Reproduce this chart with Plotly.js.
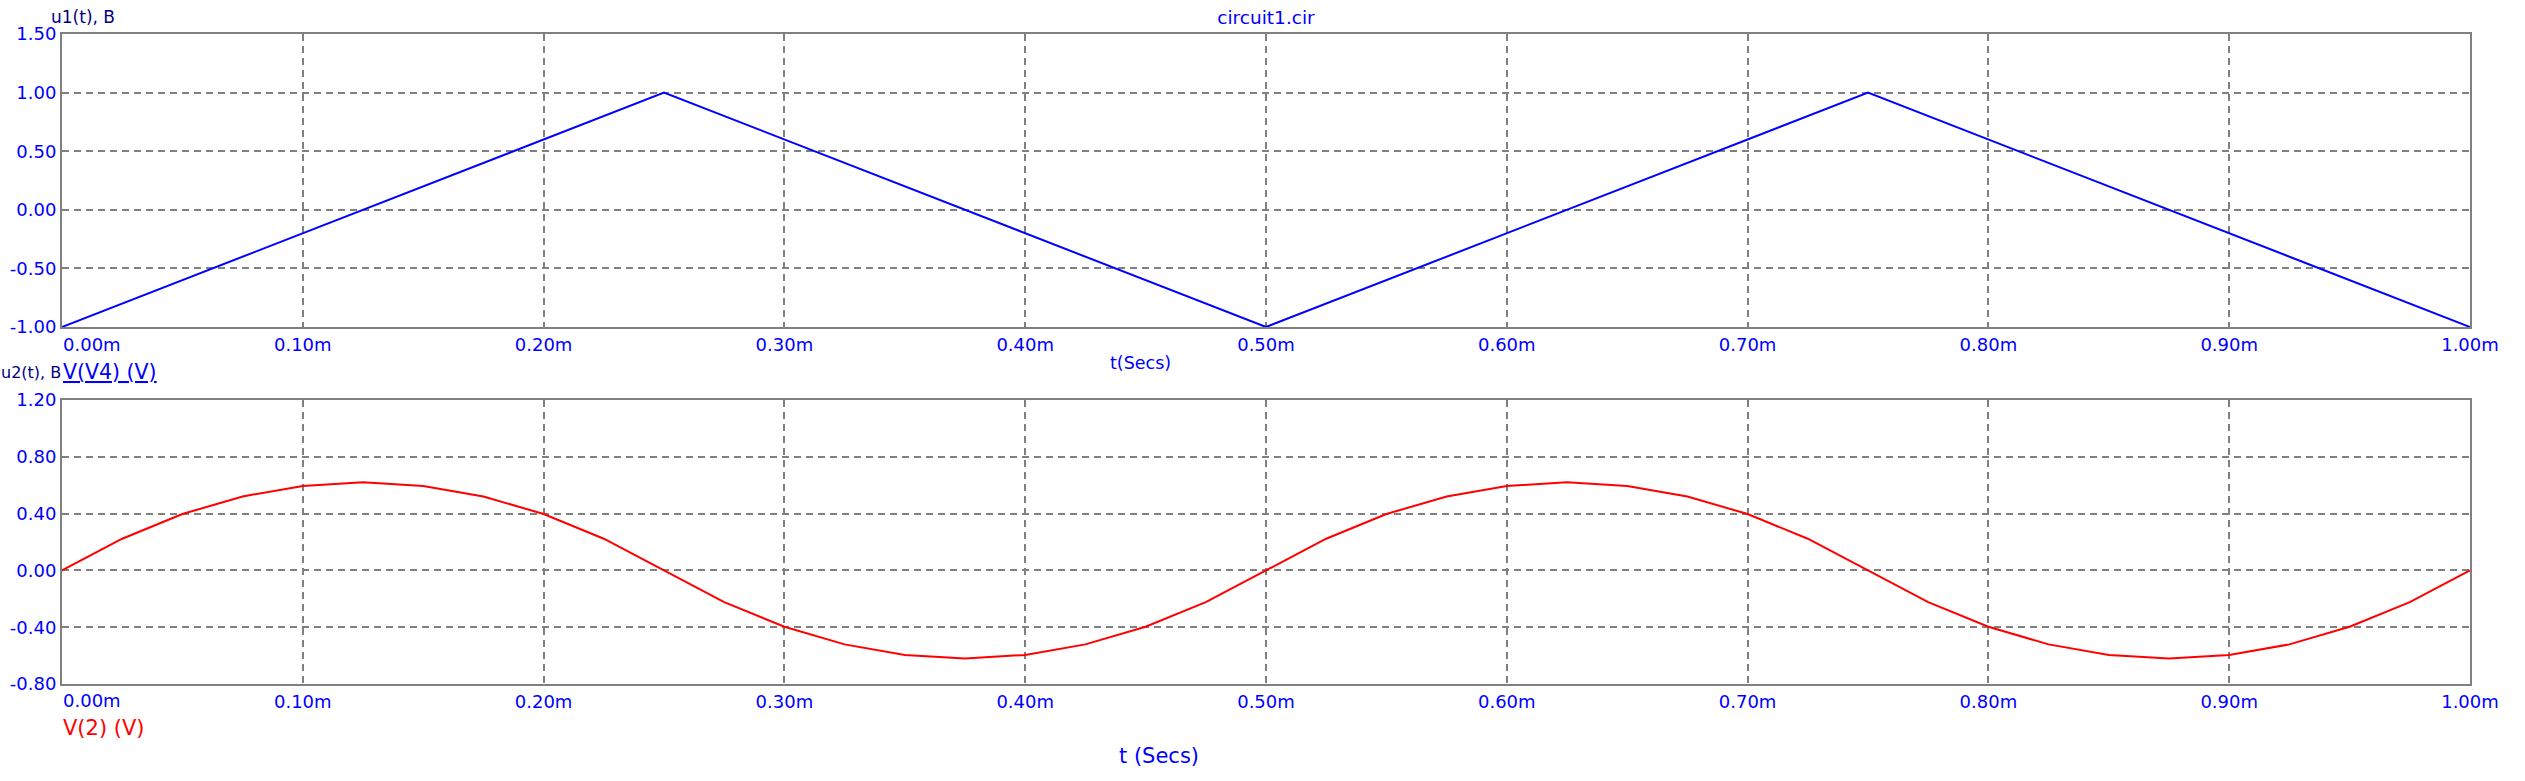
<!DOCTYPE html>
<html><head><meta charset="utf-8">
<script src="https://cdn.plot.ly/plotly-3.0.1.min.js"></script>
<style>html,body{margin:0;padding:0;background:#fff}</style>
</head><body><div id="chart" style="width:2525px;height:781px"></div>
<script>
// time in ms
const tTri = [0, 0.25, 0.5, 0.75, 1.0];
const u1 = [-1, 1, -1, 1, -1];
const tWave = [0,0.025,0.05,0.075,0.1,0.125,0.15,0.175,0.2,0.225,0.25,0.275,0.3,0.325,0.35,0.375,0.4,0.425,0.45,0.475,0.5,
  0.525,0.55,0.575,0.6,0.625,0.65,0.675,0.7,0.725,0.75,0.775,0.8,0.825,0.85,0.875,0.9,0.925,0.95,0.975,1.0];
const u2 = [0,0.223,0.397,0.521,0.595,0.62,0.595,0.521,0.397,0.223,0,-0.223,-0.397,-0.521,-0.595,-0.62,-0.595,-0.521,-0.397,-0.223,0,
  0.223,0.397,0.521,0.595,0.62,0.595,0.521,0.397,0.223,0,-0.223,-0.397,-0.521,-0.595,-0.62,-0.595,-0.521,-0.397,-0.223,0];
const xTickVals = [0,0.1,0.2,0.3,0.4,0.5,0.6,0.7,0.8,0.9,1.0];
const xTickText = ['0.00m','0.10m','0.20m','0.30m','0.40m','0.50m','0.60m','0.70m','0.80m','0.90m','1.00m'];
const y1TickVals = [-1,-0.5,0,0.5,1,1.5];
const y1TickText = ['-1.00','-0.50','0.00','0.50','1.00','1.50'];
const y2TickVals = [-0.8,-0.4,0,0.4,0.8,1.2];
const y2TickText = ['-0.80','-0.40','0.00','0.40','0.80','1.20'];
const chartTitle = 'circuit1.cir';
const y1Label = 'u1(t), B', y2Label = 'u2(t), B';
const x1Label = 't(Secs)', x2Label = 't (Secs)';
const trace1Name = 'V(V4) (V)', trace2Name = 'V(2) (V)';

const W = 2525, H = 781, L = 62, R = 55;
const PW = W - L - R;
const px = v => (v - L) / PW;
const py = v => 1 - v / H;
const FONT = 'DejaVu Sans, Liberation Sans, Arial, sans-serif';
const BLUE = '#0000ff', NAVY = '#000080', GRAY = '#808080';

const xShown = xTickText.map((s, i) => i === 0 ? '' : s);

const axX = (anchor) => ({
  anchor: anchor, range: [0, 1], tickvals: xTickVals, ticktext: xShown,
  showgrid: true, gridcolor: GRAY, gridwidth: 2, griddash: '7px,5px',
  showline: true, mirror: true, linecolor: GRAY, linewidth: 2,
  zeroline: false, ticks: '', tickfont: {family: FONT, size: 18, color: BLUE}
});
const axY = (dom, rng, tv, tt) => ({
  domain: dom, range: rng, tickvals: tv, ticktext: tt,
  showgrid: true, gridcolor: GRAY, gridwidth: 2, griddash: '7px,5px',
  showline: true, mirror: true, linecolor: GRAY, linewidth: 2,
  zeroline: false, ticks: '', tickfont: {family: FONT, size: 18, color: BLUE}
});

const data = [
  {x: tTri, y: u1, type: 'scatter', mode: 'lines', name: trace1Name,
   line: {color: BLUE, width: 2}, xaxis: 'x', yaxis: 'y'},
  {x: tWave, y: u2, type: 'scatter', mode: 'lines', name: trace2Name,
   line: {color: '#ff0000', width: 2}, xaxis: 'x2', yaxis: 'y2'}
];

const ann = (text, x, y, size, color, xanchor) => ({
  text: text, xref: 'paper', yref: 'paper', x: px(x), y: py(y),
  xanchor: xanchor, yanchor: 'middle', showarrow: false,
  font: {family: FONT, size: size, color: color}, borderpad: 0
});

const layout = {
  width: W, height: H, paper_bgcolor: '#fff', plot_bgcolor: '#fff',
  margin: {l: L, r: R, t: 0, b: 0}, showlegend: false,
  title: {text: chartTitle, font: {family: FONT, size: 18.5, color: BLUE},
    x: (L + PW / 2) / W, xanchor: 'center', xref: 'container',
    y: 1 - 18 / H, yanchor: 'middle', yref: 'container'},
  xaxis: axX('y'),
  yaxis: axY([1 - 327 / H, 1 - 34 / H], [-1, 1.5], y1TickVals, y1TickText),
  xaxis2: axX('y2'),
  yaxis2: axY([1 - 684 / H, 1 - 400 / H], [-0.8, 1.2], y2TickVals, y2TickText),
  annotations: [
    ann(y1Label, 50, 17, 17, NAVY, 'left'),
    ann(x1Label, 1140, 363, 17.5, BLUE, 'center'),
    ann(y2Label, 0, 372, 16, NAVY, 'left'),
    ann('<u>' + trace1Name + '</u>', 62, 372, 20.5, BLUE, 'left'),
    ann(trace2Name, 62, 728, 21, '#ff0000', 'left'),
    ann(x2Label, 1159, 756, 21, BLUE, 'center'),
    ann(xTickText[0], 62, 344, 18, BLUE, 'left'),
    ann(xTickText[0], 62, 700, 18, BLUE, 'left')
  ]
};

Plotly.newPlot('chart', data, layout, {staticPlot: true, displayModeBar: false});
</script></body></html>
